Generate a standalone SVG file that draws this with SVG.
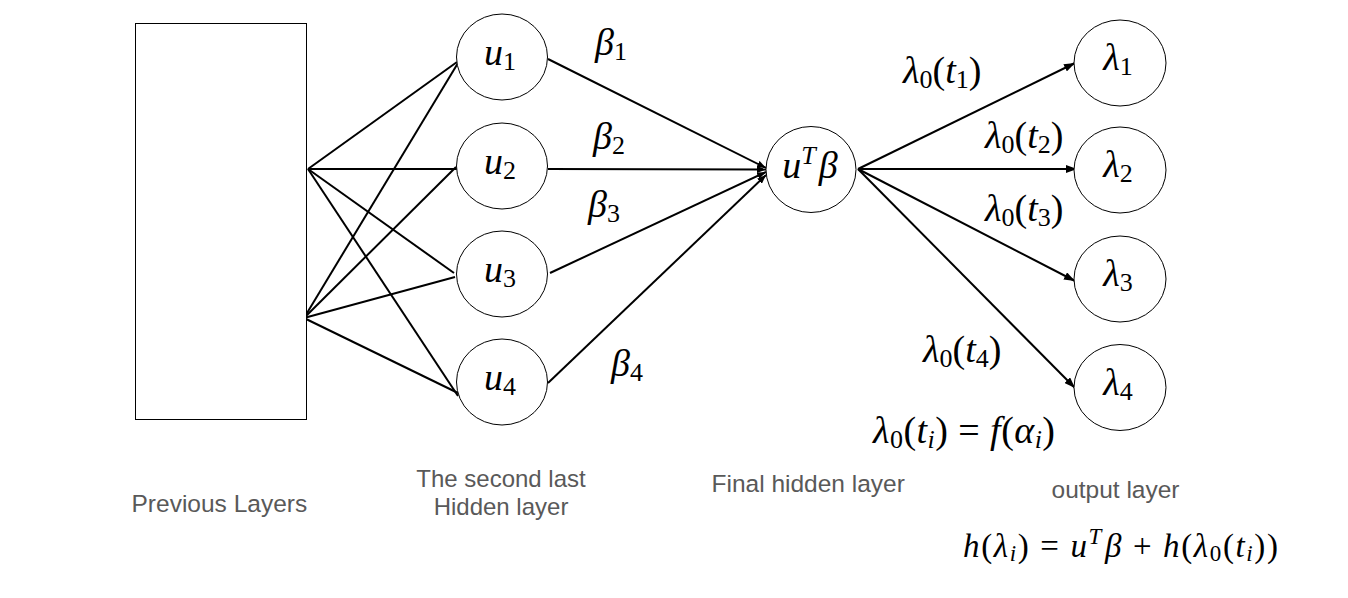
<svg xmlns="http://www.w3.org/2000/svg" width="1348" height="598" viewBox="0 0 1348 598">
<style>
.node{fill:#fff;stroke:#000;stroke-width:1}
.edge{stroke:#000;stroke-width:2;fill:none}
.m{font-family:"Liberation Serif","DejaVu Serif",serif;font-size:38px;fill:#000}
.i{font-style:italic}
.s{font-size:26px}
.lbl{font-family:"Liberation Sans",Arial,sans-serif;font-size:24.5px;fill:#595959}
</style>
<defs>
<marker id="ah" markerWidth="11" markerHeight="8" refX="11" refY="4" orient="auto" markerUnits="userSpaceOnUse"><path d="M0,0 L11,4 L0,8 z" fill="#000"/></marker>
<marker id="ahs" markerWidth="9" markerHeight="7" refX="9" refY="3.5" orient="auto" markerUnits="userSpaceOnUse"><path d="M0,0 L9,3.5 L0,7 z" fill="#000"/></marker>
</defs>
<rect x="0" y="0" width="1348" height="598" fill="#fff"/>

<g id="connectors">
<line class="edge" x1="308" y1="169" x2="457" y2="62"/>
<line class="edge" x1="308" y1="169" x2="457" y2="169"/>
<line class="edge" x1="308" y1="169" x2="454" y2="273"/>
<line class="edge" x1="308" y1="169" x2="458" y2="396"/>
<line class="edge" x1="304" y1="318" x2="458" y2="63"/>
<line class="edge" x1="304" y1="318" x2="456" y2="167"/>
<line class="edge" x1="304" y1="318" x2="455" y2="277"/>
<line class="edge" x1="304" y1="318" x2="458" y2="393"/>
<line class="edge" x1="548" y1="59" x2="766" y2="168" marker-end="url(#ahs)"/>
<line class="edge" x1="548" y1="169" x2="766" y2="169.5" marker-end="url(#ahs)"/>
<line class="edge" x1="550" y1="273" x2="766" y2="172" marker-end="url(#ahs)"/>
<line class="edge" x1="548" y1="383" x2="766" y2="175" marker-end="url(#ahs)"/>
<line class="edge" x1="858" y1="169" x2="1075" y2="63" marker-end="url(#ah)"/>
<line class="edge" x1="858" y1="169" x2="1077" y2="169" marker-end="url(#ah)"/>
<line class="edge" x1="858" y1="169" x2="1075" y2="281" marker-end="url(#ah)"/>
<line class="edge" x1="858" y1="169" x2="1075" y2="388" marker-end="url(#ah)"/>
</g>

<g id="previous-layers">
<rect class="node" x="135.5" y="23.5" width="171" height="396"/>
</g>

<g id="u1"><ellipse class="node" cx="502" cy="57" rx="45.5" ry="43"/>
<text class="m" x="500" y="65" text-anchor="middle"><tspan class="i">u</tspan><tspan class="s" dy="5">1</tspan></text></g>
<g id="u2"><ellipse class="node" cx="502" cy="166" rx="45.5" ry="43"/>
<text class="m" x="500" y="174" text-anchor="middle"><tspan class="i">u</tspan><tspan class="s" dy="5">2</tspan></text></g>
<g id="u3"><ellipse class="node" cx="502" cy="274" rx="45.5" ry="43"/>
<text class="m" x="500" y="282" text-anchor="middle"><tspan class="i">u</tspan><tspan class="s" dy="5">3</tspan></text></g>
<g id="u4"><ellipse class="node" cx="502" cy="382" rx="45.5" ry="43"/>
<text class="m" x="500" y="390" text-anchor="middle"><tspan class="i">u</tspan><tspan class="s" dy="5">4</tspan></text></g>

<g id="utb"><ellipse class="node" cx="811" cy="169.5" rx="45" ry="43"/>
<text class="m" x="810" y="178" text-anchor="middle"><tspan class="i">u</tspan><tspan class="s i" dy="-14">T</tspan><tspan class="i" dy="14" dx="3">β</tspan></text></g>

<g id="l1"><ellipse class="node" cx="1120" cy="63" rx="46" ry="43"/>
<text class="m" x="1118" y="70" text-anchor="middle"><tspan class="i">λ</tspan><tspan class="s" dy="5">1</tspan></text></g>
<g id="l2"><ellipse class="node" cx="1120" cy="170" rx="46" ry="43"/>
<text class="m" x="1118" y="177" text-anchor="middle"><tspan class="i">λ</tspan><tspan class="s" dy="5">2</tspan></text></g>
<g id="l3"><ellipse class="node" cx="1120" cy="279" rx="46" ry="43"/>
<text class="m" x="1118" y="286" text-anchor="middle"><tspan class="i">λ</tspan><tspan class="s" dy="5">3</tspan></text></g>
<g id="l4"><ellipse class="node" cx="1120" cy="387.5" rx="46" ry="43"/>
<text class="m" x="1118" y="394.5" text-anchor="middle"><tspan class="i">λ</tspan><tspan class="s" dy="5">4</tspan></text></g>

<g id="edge-labels">
<text class="m" x="595" y="55"><tspan class="i">β</tspan><tspan class="s" dy="5">1</tspan></text>
<text class="m" x="593" y="148.5"><tspan class="i">β</tspan><tspan class="s" dy="5">2</tspan></text>
<text class="m" x="588" y="216.5"><tspan class="i">β</tspan><tspan class="s" dy="5">3</tspan></text>
<text class="m" x="611" y="376"><tspan class="i">β</tspan><tspan class="s" dy="5">4</tspan></text>
<text class="m" x="903" y="83"><tspan class="i">λ</tspan><tspan class="s" dy="5">0</tspan><tspan dy="-5">(</tspan><tspan class="i">t</tspan><tspan class="s" dy="5">1</tspan><tspan dy="-5">)</tspan></text>
<text class="m" x="985" y="147.5"><tspan class="i">λ</tspan><tspan class="s" dy="5">0</tspan><tspan dy="-5">(</tspan><tspan class="i">t</tspan><tspan class="s" dy="5">2</tspan><tspan dy="-5">)</tspan></text>
<text class="m" x="985" y="220.5"><tspan class="i">λ</tspan><tspan class="s" dy="5">0</tspan><tspan dy="-5">(</tspan><tspan class="i">t</tspan><tspan class="s" dy="5">3</tspan><tspan dy="-5">)</tspan></text>
<text class="m" x="923" y="361.5"><tspan class="i">λ</tspan><tspan class="s" dy="5">0</tspan><tspan dy="-5">(</tspan><tspan class="i">t</tspan><tspan class="s" dy="5">4</tspan><tspan dy="-5">)</tspan></text>
<text class="m" x="873" y="443" textLength="182" lengthAdjust="spacing"><tspan class="i">λ</tspan><tspan class="s" dy="5">0</tspan><tspan dy="-5">(</tspan><tspan class="i">t</tspan><tspan class="s i" dy="5">i</tspan><tspan dy="-5">) = </tspan><tspan class="i">f</tspan><tspan>(</tspan><tspan class="i">α</tspan><tspan class="s i" dy="5">i</tspan><tspan dy="-5">)</tspan></text>
<text class="m" x="963" y="557" style="font-size:33px" textLength="315" lengthAdjust="spacing"><tspan class="i">h</tspan><tspan>(</tspan><tspan class="i">λ</tspan><tspan class="i" style="font-size:23px" dy="4">i</tspan><tspan dy="-4">) = </tspan><tspan class="i">u</tspan><tspan class="i" style="font-size:23px" dy="-13">T</tspan><tspan class="i" dy="13" dx="2">β</tspan><tspan> + </tspan><tspan class="i">h</tspan><tspan>(</tspan><tspan class="i">λ</tspan><tspan style="font-size:23px" dy="4">0</tspan><tspan dy="-4">(</tspan><tspan class="i">t</tspan><tspan class="i" style="font-size:23px" dy="4">i</tspan><tspan dy="-4">))</tspan></text>
</g>

<g id="layer-labels">
<text class="lbl" x="131.5" y="512.3">Previous Layers</text>
<text class="lbl" x="501" y="487" text-anchor="middle" style="font-size:24px">The second last</text>
<text class="lbl" x="501" y="514.5" text-anchor="middle" style="font-size:24px">Hidden layer</text>
<text class="lbl" x="711.5" y="491.7">Final hidden layer</text>
<text class="lbl" x="1051.5" y="498">output layer</text>
</g>
</svg>
